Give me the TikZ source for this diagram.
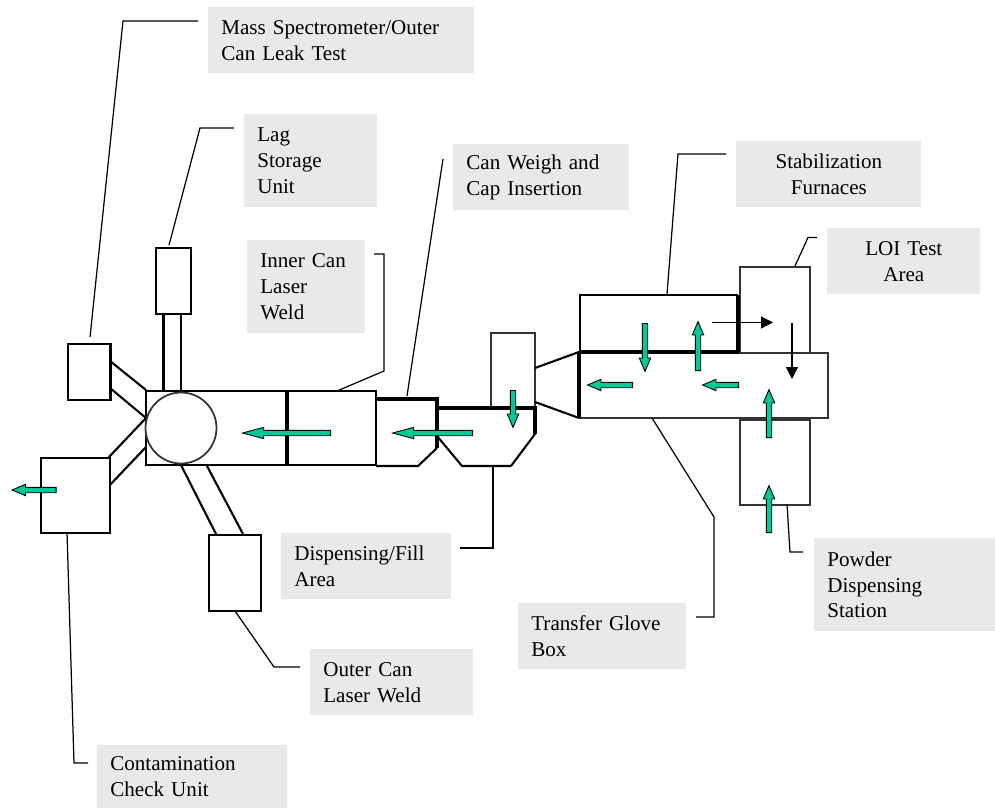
\documentclass[tikz,border=0pt]{standalone}
\usepackage{fontspec}
\setmainfont{Liberation Serif}
\usetikzlibrary{positioning,calc,arrows.meta,shapes.arrows}
\definecolor{labelgray}{HTML}{E9E9E9}
\definecolor{flowgreen}{HTML}{00C896}
\definecolor{edgegray}{HTML}{333333}
\tikzset{
  callout/.style={fill=labelgray, inner xsep=.26cm, inner ysep=0pt, anchor=north west, align=left,
    minimum height=1.32cm, font=\fontsize{12}{14.7}\selectfont},
  leader/.style={line width=.7pt, black},
  unitbox/.style={draw=black, line width=1.2pt, fill=white, inner sep=0pt, anchor=north west},
  wall/.style={line width=1.2pt, black},
  heavywall/.style={line width=1.9pt, black},
  flowshort/.style={single arrow, draw=black, line width=.5pt, fill=flowgreen, anchor=tail, inner xsep=0pt, inner ysep=.045cm,
    single arrow head extend=.06cm, single arrow tip angle=46},
  flowlong/.style={flowshort, single arrow tip angle=30}
}

\begin{document}
\begin{tikzpicture}[x=.02cm, y=-.02cm]
        \useasboundingbox (0,0) rectangle (995,808);

        % Labels
        \node[callout, text width=4.8cm] (masslabel) at (208,7) {Mass Spectrometer/Outer\\Can Leak Test};
        \node[callout, text width=2.14cm, minimum height=1.86cm] (laglabel) at (244,114) {Lag\\Storage\\Unit};
        \node[callout, text width=3cm] (weighlabel) at (453,144) {Can Weigh and\\Cap Insertion};
        \node[callout, text width=3.18cm, align=center] (stablabel) at (736,141) {Stabilization\\Furnaces};
        \node[callout, text width=2.54cm, align=center] (loilabel) at (827,228) {LOI Test\\Area};
        \node[callout, text width=1.84cm, minimum height=1.86cm] (innerlabel) at (247,240) {Inner Can\\Laser\\Weld};
        \node[callout, text width=2.88cm] (filllabel) at (281,533) {Dispensing/Fill\\Area};
        \node[callout, text width=2.74cm] (outerlabel) at (310,649) {Outer Can\\Laser Weld};
        \node[callout, text width=3.28cm, minimum height=1.26cm] (contamlabel) at (97,745) {Contamination\\Check Unit};
        \node[callout, text width=2.84cm] (transferlabel) at (518,603) {Transfer Glove\\Box};
        \node[callout, text width=3.1cm, minimum height=1.86cm] (powderlabel) at (814,538) {Powder\\Dispensing\\Station};

        % Tubes
        \draw[heavywall] (163.5,313) -- (163.5,391);
        \draw[wall] (181,313) -- (181,391);
        \draw[wall] (110,361) -- (146,390);
        \draw[wall] (110,388) -- (146,418);
        \draw[wall] (109,457) -- (146,418);
        \draw[wall] (109,486) -- (146,447);
        \draw[wall] (181,465) -- (216,534);
        \draw[wall] (207,466) -- (243,534);

        % Units
        \node[unitbox, minimum width=.7cm, minimum height=1.32cm] (lagbox) at (155,247) {};
        \node[unitbox, minimum width=.86cm, minimum height=1.12cm] (massbox) at (66.5,343) {};
        \node[unitbox, minimum width=1.38cm, minimum height=1.5cm] (contambox) at (40,457) {};
        \node[unitbox, minimum width=1.04cm, minimum height=1.52cm] (outerbox) at (208,534) {};

        % Weld chamber
        \draw[wall] (146,391) rectangle (376,465);
        \draw[heavywall] (287,391) -- (287,465);
        \node[draw=edgegray, line width=1pt, fill=white, circle, inner sep=0pt, minimum size=1.42cm] (hub) at (181,428) {};

        % Can weigh and fill
        \draw[wall, line join=round] (437,448) -- (418,466) -- (376,466);
        \draw[heavywall] (376,399) -- (437,399) -- (437,448);
        \draw[wall] (437,436) -- (462,466) -- (511,466);
        \draw[wall] (511,466) -- (535,434);
        \draw[edgegray, line width=1pt] (491,408) -- (491,333) -- (535,333) -- (535,408);
        \draw[heavywall] (437,408) -- (535,408) -- (535,434);
        \draw[wall] (535,368) -- (579,352);
        \draw[wall] (535,402) -- (579,418);

        % Glove box, furnaces and test area
        \node[unitbox, draw=edgegray, minimum width=1.4cm, minimum height=1.72cm] (loibox) at (739,266) {};
        \node[unitbox, draw=edgegray, minimum width=1.4cm, minimum height=1.7cm] (powderbox) at (739,419) {};
        \node[unitbox, draw=edgegray, fill=none, minimum width=4.96cm, minimum height=1.3cm] (transferbox) at (579,352) {};
        \draw[wall] (580,352) -- (580,295) -- (738,295);
        \draw[heavywall] (738,295) -- (738,352);
        \draw[heavywall] (579,352) -- (739,352);
        \draw[heavywall] (579,352) -- (579,418);

        % Flow
        \node[flowlong, minimum height=1.76cm, rotate=180] (flowa) at (331,433) {};
        \node[flowlong, minimum height=1.6cm, rotate=180] (flowb) at (473,433) {};
        \node[flowshort, minimum height=.88cm, rotate=180] (flowc) at (56.5,490) {};
        \node[flowshort, minimum height=.74cm, rotate=-90] (flowd) at (513,390) {};
        \node[flowshort, minimum height=.9cm, rotate=180] (flowe) at (633,385) {};
        \node[flowshort, minimum height=.72cm, rotate=180] (flowf) at (739,385) {};
        \node[flowshort, minimum height=.96cm, rotate=-90] (flowg) at (645,323) {};
        \node[flowshort, minimum height=.98cm, rotate=90] (flowh) at (698,371) {};
        \node[flowshort, minimum height=.96cm, rotate=90] (flowi) at (769,438) {};
        \node[flowshort, minimum height=.94cm, rotate=90] (flowj) at (769,533) {};

        % Transfer direction
        \coordinate (heatstart) at (712,322.5);
        \coordinate (heatend) at (773,322.5);
        \coordinate (teststart) at (792,323);
        \coordinate (testend) at (792,379);
        \draw[leader, -{Triangle[length=12*.567pt, width=12*.567pt]}] (heatstart) -- (heatend);
        \draw[leader, -{Triangle[length=12*.567pt, width=12*.567pt]}] (teststart) -- (testend);

        % Leaders
        \coordinate (massend) at (198,21);
        \coordinate (lagend) at (234,128);
        \coordinate (weighend) at (443,159);
        \coordinate (stabend) at (726,154);
        \coordinate (loiend) at (817,237.5);
        \coordinate (innerend) at (374,254);
        \coordinate (fillend) at (460,548);
        \coordinate (outerend) at (300,667);
        \coordinate (contamend) at (88,763);
        \coordinate (transferend) at (696,617);
        \coordinate (powderend) at (803,552);
        \draw[leader] ($(massbox.north)+(1,-6)$) -- (123,21) -- (massend);
        \draw[leader] ($(lagbox.north)+(-4.5,-2)$) -- (200,128) -- (lagend);
        \draw[leader] (407,396) -- (weighend);
        \draw[leader] (667,294) -- (678,154) -- (stabend);
        \draw[leader] (795,266) -- (808,237.5) -- (loiend);
        \draw[leader] (337,391) -- (384,371) -- (384,254) -- (innerend);
        \draw[leader] (493,466) -- (493,548) -- (fillend);
        \draw[leader] (235,611) -- (274,667) -- (outerend);
        \draw[leader] (67,532) -- (74,763) -- (contamend);
        \draw[leader] (652,418) -- (714,517) -- (714,617) -- (transferend);
        \draw[leader] (787,504) -- (790,552) -- (powderend);

    \end{tikzpicture}
\end{document}
